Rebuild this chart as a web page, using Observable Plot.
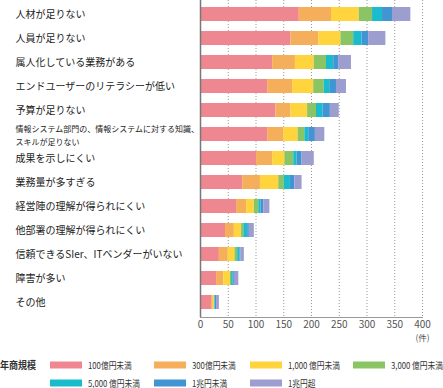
<!DOCTYPE html>
<html><head><meta charset="utf-8">
<script src="https://cdn.jsdelivr.net/npm/d3@7"></script>
<script src="https://cdn.jsdelivr.net/npm/@observablehq/plot@0.6"></script>
<style>
body{margin:0;background:#fff;font-family:"Noto Sans CJK JP",sans-serif;}
#wrap{position:relative;width:443px;height:388px;overflow:hidden;background:#fff;}
#wrap svg{position:absolute;left:0;top:0;}
.lg{position:absolute;font-size:9px;color:#333;white-space:nowrap;line-height:1;transform-origin:left center;transform:translateY(-50%) scaleX(0.86);}
.sw{position:absolute;width:32px;height:7px;transform:translateY(-50%);}
.ttl{position:absolute;font-size:10px;font-weight:bold;color:#333;white-space:nowrap;line-height:1;transform-origin:left center;transform:translateY(-50%) scaleX(0.9);}
</style></head><body><div id="wrap"></div>
<script>
const categories = [
  "人材が足りない",
  "人員が足りない",
  "属人化している業務がある",
  "エンドユーザーのリテラシーが低い",
  "予算が足りない",
  "情報システム部門の、情報システムに対する知識、\nスキルが足りない",
  "成果を示しにくい",
  "業務量が多すぎる",
  "経営陣の理解が得られにくい",
  "他部署の理解が得られにくい",
  "信頼できるSIer、ITベンダーがいない",
  "障害が多い",
  "その他"
];
const seriesNames = ["100億円未満","300億円未満","1,000 億円未満","3,000 億円未満","5,000 億円未満","1兆円未満","1兆円超"];
const colors = ["#EF8791","#F5AE5A","#FFD43D","#8BC563","#1ABBCD","#4294D2","#9B9ECE"];
const xTicks = [0,50,100,150,200,250,300,350,400];
const unitLabel = "(件)";
const legendTitle = "年商規模";

const s100   = [178,163,130,121,136,121,101,76,65,45,34,29,20];
const s300   = [58,50,41,45,27,29,29,32,18,16,16,13,3];
const s1000  = [50,40,34,38,30,26,22,33,14,13,12,12,2];
const s3000  = [24,23,22,19,16,12,16,10,8,4,5,2,1];
const s5000  = [18,15,13,11,12,7,6,11,4,7,4,3,1];
const s1t    = [18,12,9,11,13,12,9,8,5,3,2,2,2];
const s1tUp  = [33,31,23,18,16,17,22,13,11,9,6,8,5];
const seriesValues = [s100,s300,s1000,s3000,s5000,s1t,s1tUp];

const data = [];
seriesNames.forEach((s,i)=>categories.forEach((c,j)=>data.push({category:c, series:s, value:seriesValues[i][j]})));
const longLabel = categories[5];
const FONT = '"Noto Sans CJK JP", sans-serif';

const chart = Plot.plot({
  width:443, height:345,
  marginLeft:200, marginRight:21, marginTop:0, marginBottom:28,
  style:{fontFamily:FONT, background:"#fff", overflow:"visible"},
  x:{domain:[0,400], axis:null},
  y:{domain:categories, axis:null, paddingInner:0.4, paddingOuter:0.2},
  color:{domain:seriesNames, range:colors},
  marks:[
    Plot.gridX(xTicks.slice(1), {stroke:"#999", strokeOpacity:1, strokeDasharray:"1,2"}),
    Plot.barX(data, {x:"value", y:"category", fill:"series"}),
    Plot.ruleX([0], {stroke:"#777", strokeWidth:1.5}),
    Plot.frame({anchor:"bottom", stroke:"#999"}),
    Plot.axisX(xTicks, {anchor:"bottom", label:null, tickSize:0, tickPadding:3, fontSize:10, fill:"#555"}),
    Plot.text([unitLabel], {x:400, frameAnchor:"bottom", dy:23, fontSize:8.5, fill:"#555"}),
    Plot.text(categories.filter(c => c !== longLabel), {y:d=>d, text:d=>d, frameAnchor:"left", dx:-185, textAnchor:"start", fontSize:10, fill:"#222"}),
    Plot.text([longLabel], {y:d=>d, text:d=>d, frameAnchor:"left", dx:-185, textAnchor:"start", fontSize:8, lineHeight:1.55, fill:"#222"})
  ]
});
const wrap = document.getElementById("wrap");
wrap.appendChild(chart);

// legend
const colX = [50,154,250,353];
const rowY = [365,383];
const t = document.createElement("div");
t.className = "ttl"; t.textContent = legendTitle;
t.style.left = "0px"; t.style.top = rowY[0] + "px";
wrap.appendChild(t);
seriesNames.forEach((s,i)=>{
  const r = Math.floor(i/4), c = i%4;
  const sw = document.createElement("div");
  sw.className = "sw"; sw.style.background = colors[i];
  sw.style.left = colX[c] + "px"; sw.style.top = rowY[r] + "px";
  wrap.appendChild(sw);
  const lb = document.createElement("div");
  lb.className = "lg"; lb.textContent = s;
  lb.style.left = (colX[c] + 38) + "px"; lb.style.top = rowY[r] + "px";
  wrap.appendChild(lb);
});
</script></body></html>
